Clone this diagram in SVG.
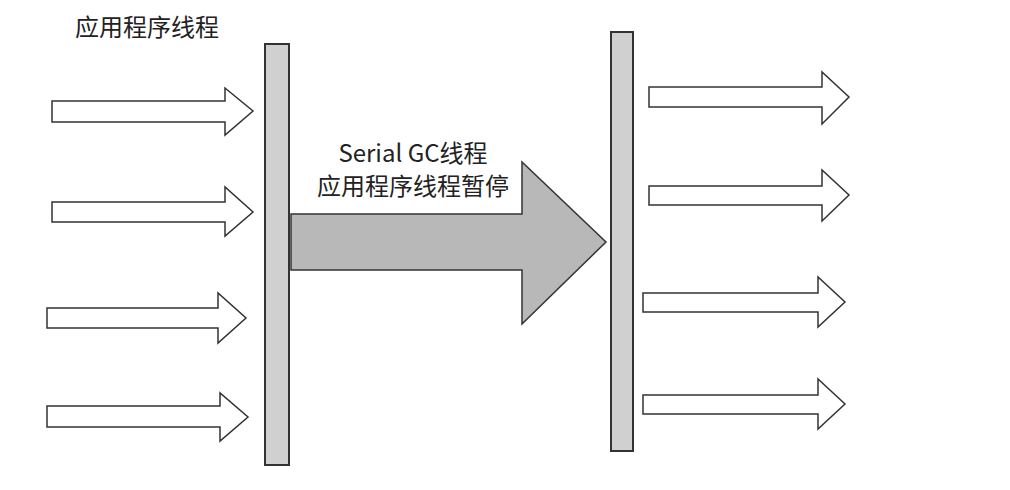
<svg xmlns="http://www.w3.org/2000/svg" width="1010" height="490" viewBox="0 0 1010 490">
<style>
.bar{fill:#d0d0d0;stroke:#333;stroke-width:2}
.wa{fill:#fff;stroke:#333;stroke-width:1.5}
.ga{fill:#b8b8b8;stroke:#333;stroke-width:1.5}
text{font-family:"Noto Sans CJK SC","Noto Sans",sans-serif;font-size:24px;fill:#222}
</style>
<rect width="1010" height="490" fill="#fff"/>
<text x="75" y="36">应用程序线程</text>
<g id="bar-left"><rect class="bar" x="265" y="44" width="24" height="421"/></g>
<g id="bar-right"><rect class="bar" x="611" y="32" width="22" height="419"/></g>
<g id="connectors">
<polygon class="wa" points="52,101 225,101 225,88 253,111 225,135 225,122 52,122"/>
<polygon class="wa" points="52,202 225,202 225,187 253,212 225,236 225,222 52,222"/>
<polygon class="wa" points="47,308 218,308 218,293 246,318 218,343 218,328 47,328"/>
<polygon class="wa" points="47,406 220,406 220,393 248,417 220,441 220,427 47,427"/>
<polygon class="wa" points="649,87 822,87 822,72 849,97 822,124 822,107 649,107"/>
<polygon class="wa" points="649,186 822,186 822,170 849,195 822,221 822,205 649,205"/>
<polygon class="wa" points="643,293 818,293 818,277 845,302 818,327 818,312 643,312"/>
<polygon class="wa" points="643,395 818,395 818,379 845,404 818,429 818,414 643,414"/>
<polygon class="ga" points="291,214 522,214 522,162 606,242 522,324 522,270 291,270"/>
</g>
<g id="label">
<text x="413" y="162" text-anchor="middle">Serial GC线程</text>
<text x="413" y="195" text-anchor="middle">应用程序线程暂停</text>
</g>
</svg>
